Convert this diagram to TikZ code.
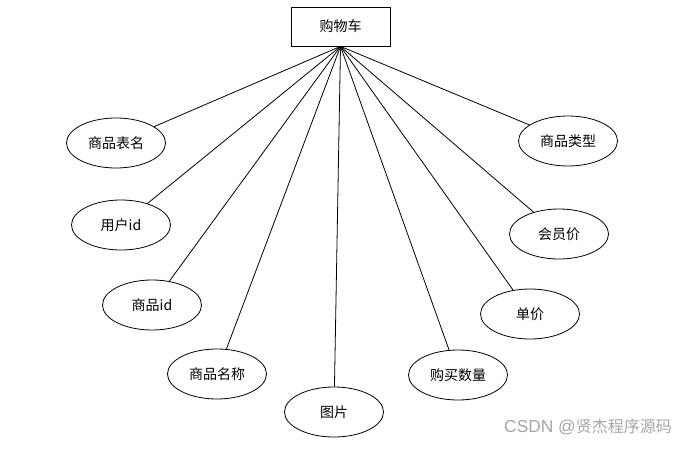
\documentclass[tikz,border=0pt]{standalone}
\usepackage{fontspec}
\newfontfamily\cjk{Noto Sans CJK SC}
\newfontfamily\lsans{Liberation Sans}
\usetikzlibrary{shapes.geometric, positioning}

\begin{document}
\begin{tikzpicture}[x=0.75pt, y=-0.75pt,
    entity/.style={draw, line width=0.6pt, minimum width=99*0.75pt, minimum height=39*0.75pt, font=\cjk\fontsize{10.5}{12}\selectfont},
    attr/.style={draw, ellipse, line width=0.6pt, minimum width=99*0.75pt, minimum height=50*0.75pt, inner sep=0pt, font=\cjk\fontsize{10.5}{12}\selectfont},
    link/.style={line width=0.6pt}]
            \useasboundingbox (0,0) rectangle (698,449);

            \node[entity] (cart) at (340.5,26.5) {购物车};

            \node[attr] (table) at (116,143) {商品表名};
            \node[attr] (uid) at (121,225) {用户id};
            \node[attr] (gid) at (152,305) {商品id};
            \node[attr] (gname) at (217,374) {商品名称};
            \node[attr] (pic) at (334,412) {图片};
            \node[attr] (qty) at (458,375) {购买数量};
            \node[attr] (price) at (530,314) {单价};
            \node[attr] (vip) at (559,234) {会员价};
            \node[attr] (gtype) at (568,141) {商品类型};

            \foreach \a in {table, uid, gid, gname, pic, qty, price, vip, gtype}
                \draw[link] (cart.south) -- (\a);

            \node[font=\cjk\fontsize{12}{14}\selectfont, text=black!35] (mark) at (588,427) {{\lsans\fontsize{13}{14}\selectfont CSDN @}贤杰程序源码};
        \end{tikzpicture}
\end{document}
